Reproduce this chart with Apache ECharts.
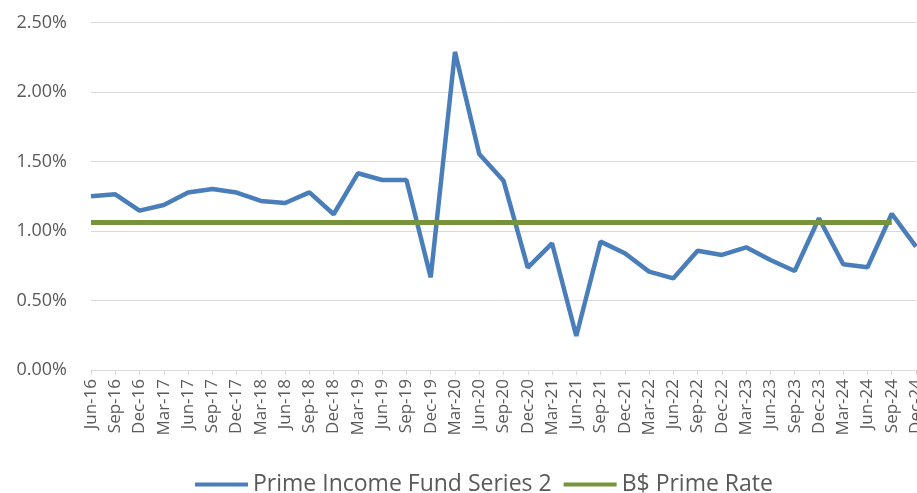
<!DOCTYPE html>
<html>
<head>
<meta charset="utf-8">
<script src="https://cdn.jsdelivr.net/npm/echarts@6/dist/echarts.min.js"></script>
<style>
html,body{margin:0;padding:0;background:#fff;overflow:hidden;width:917px;height:493px;}
#chart{width:940px;height:493px;}
</style>
</head>
<body>
<div id="chart"></div>
<script>
const categories = ['Jun-16','Sep-16','Dec-16','Mar-17','Jun-17','Sep-17','Dec-17','Mar-18','Jun-18','Sep-18','Dec-18','Mar-19','Jun-19','Sep-19','Dec-19','Mar-20','Jun-20','Sep-20','Dec-20','Mar-21','Jun-21','Sep-21','Dec-21','Mar-22','Jun-22','Sep-22','Dec-22','Mar-23','Jun-23','Sep-23','Dec-23','Mar-24','Jun-24','Sep-24','Dec-24'];
const fundSeries2 = [1.25,1.265,1.147,1.188,1.277,1.303,1.277,1.217,1.202,1.279,1.121,1.416,1.368,1.368,0.667,2.29,1.555,1.363,0.737,0.912,0.245,0.924,0.84,0.708,0.66,0.859,0.828,0.883,0.792,0.713,1.092,0.761,0.739,1.125,0.888];
const primeRate = [1.0625,1.0625,1.0625,1.0625,1.0625,1.0625,1.0625,1.0625,1.0625,1.0625,1.0625,1.0625,1.0625,1.0625,1.0625,1.0625,1.0625,1.0625,1.0625,1.0625,1.0625,1.0625,1.0625,1.0625,1.0625,1.0625,1.0625,1.0625,1.0625,1.0625,1.0625,1.0625,1.0625,1.0625,null];
const seriesNames = ['Prime Income Fund Series 2','B$ Prime Rate'];
const yTicks = [0, 0.5, 1.0, 1.5, 2.0, 2.5];

const chart = echarts.init(document.getElementById('chart'), null, {renderer:'canvas', width:940, height:493});
const font = '"Open Sans", "Noto Sans", sans-serif';
chart.setOption({
  animation:false,
  backgroundColor:'#ffffff',
  textStyle:{fontFamily:font},
  grid:{left:91, right:24, top:22.7, bottom:123, containLabel:false},
  legend:{
    data:seriesNames,
    left:190, top:468,
    icon:'rect', itemWidth:53, itemHeight:4, itemGap:12,
    textStyle:{fontSize:23, color:'#595959', fontFamily:font}
  },
  xAxis:{
    type:'category', data:categories, boundaryGap:false,
    axisLine:{lineStyle:{color:'#d9d9d9', width:1}},
    axisTick:{show:true, length:5, lineStyle:{color:'#d9d9d9'}},
    axisLabel:{rotate:90, interval:0, margin:9, fontSize:17, color:'#595959', fontFamily:font},
    splitLine:{show:false}
  },
  yAxis:{
    type:'value', min:yTicks[0], max:yTicks[yTicks.length-1], interval:0.5,
    axisLine:{show:false}, axisTick:{show:false},
    axisLabel:{margin:24, fontSize:18, color:'#595959', fontFamily:font, formatter:v=>v.toFixed(2)+'%'},
    splitLine:{lineStyle:{color:'#d9d9d9', width:1}}
  },
  series:[
    {name:seriesNames[0], type:'line', data:fundSeries2, showSymbol:false, symbol:'none',
     lineStyle:{color:'#4a7ebb', width:4.5}, itemStyle:{color:'#4a7ebb'}, z:3},
    {name:seriesNames[1], type:'line', data:primeRate, showSymbol:false, symbol:'none',
     lineStyle:{color:'#77933c', width:5}, itemStyle:{color:'#77933c'}, z:4}
  ]
});
</script>
</body>
</html>
